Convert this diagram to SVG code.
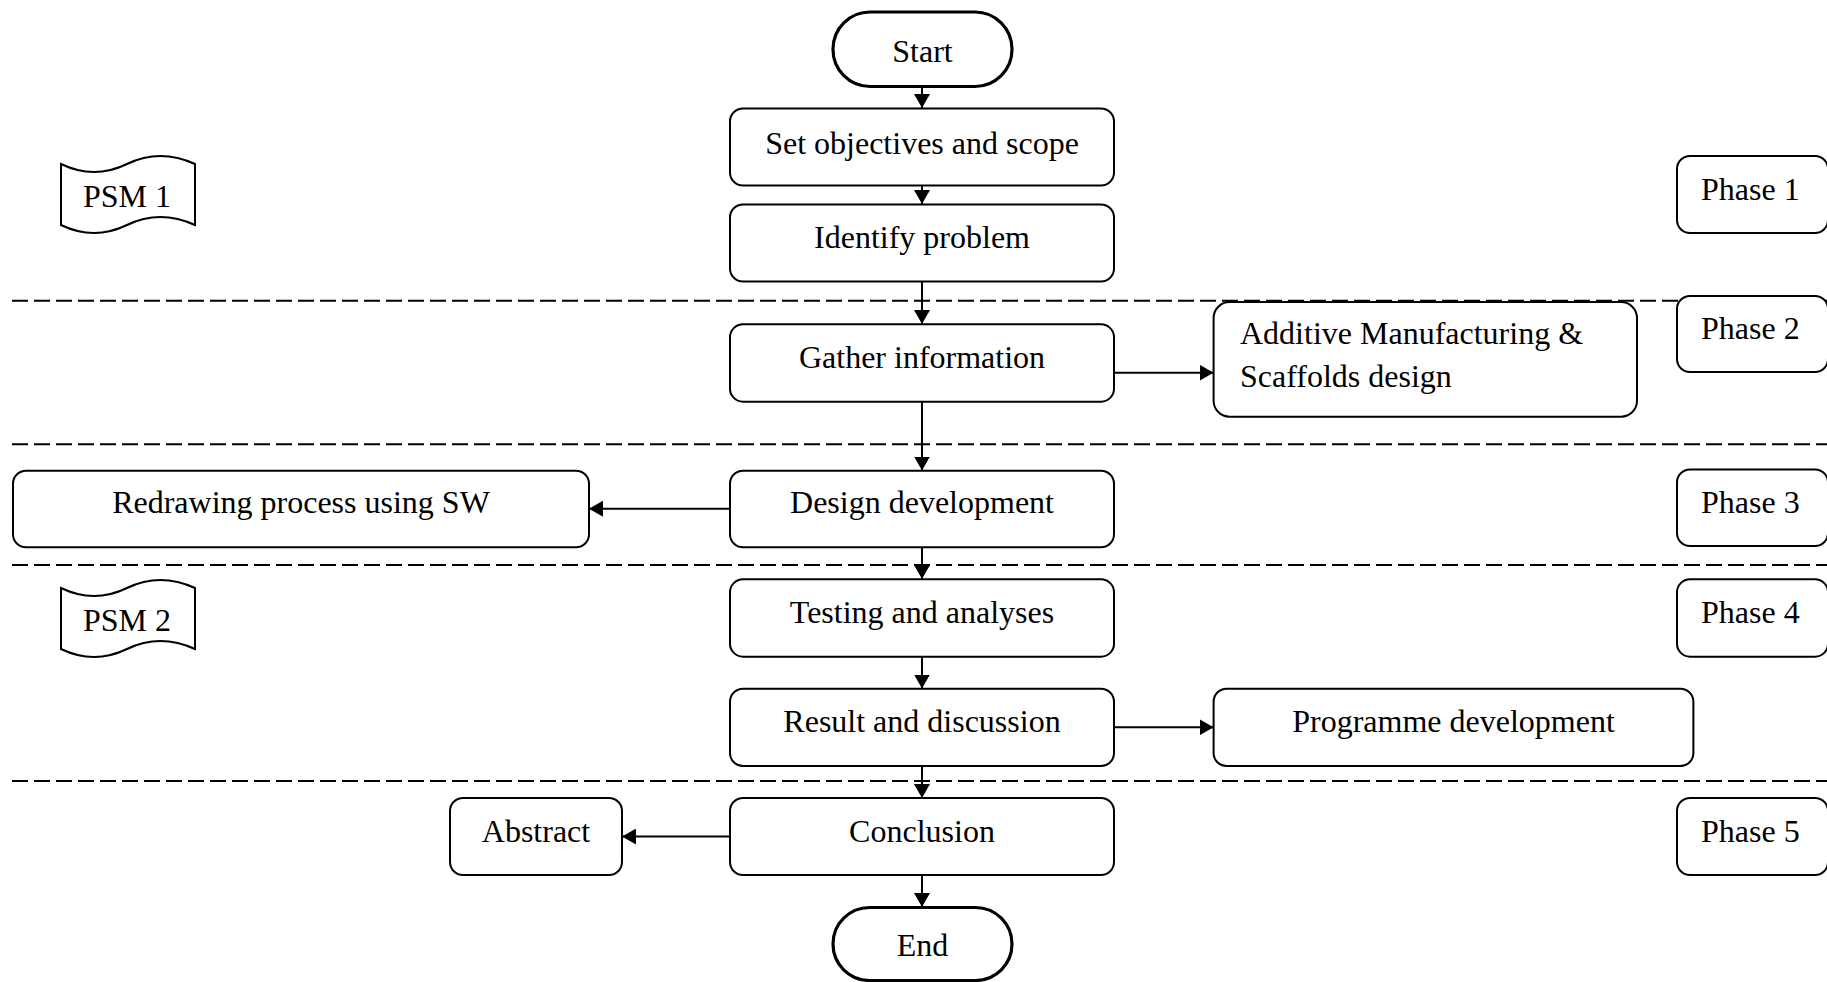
<svg xmlns="http://www.w3.org/2000/svg" width="1827" height="982" viewBox="0 0 1827 982">
<style>
.box{fill:#fff;stroke:#000;stroke-width:2}
.term{fill:#fff;stroke:#000;stroke-width:3.2}
.t{font-family:"Liberation Serif","Times New Roman",serif;font-size:32px;fill:#000}
.c{text-anchor:middle}
.dash{stroke:#000;stroke-width:2;stroke-dasharray:16 6;fill:none}
.ln{stroke:#000;stroke-width:2;fill:none;marker-end:url(#ah)}
</style>
<defs>
<marker id="ah" markerUnits="userSpaceOnUse" viewBox="0 0 14 16" refX="14" refY="8" markerWidth="14" markerHeight="16" orient="auto">
<path d="M0,0 L14,8 L0,16 Z" fill="#000"/>
</marker>
</defs>
<rect width="1827" height="982" fill="#fff"/>
<g id="dividers">
<line class="dash" x1="12" y1="300.7" x2="1827" y2="300.7"/>
<line class="dash" x1="12" y1="444.3" x2="1827" y2="444.3"/>
<line class="dash" x1="12" y1="565" x2="1827" y2="565"/>
<line class="dash" x1="12" y1="781" x2="1827" y2="781"/>
</g>
<g id="connectors">
<line class="ln" x1="922" y1="87" x2="922" y2="108"/>
<line class="ln" x1="922" y1="186" x2="922" y2="204"/>
<line class="ln" x1="922" y1="282" x2="922" y2="324"/>
<line class="ln" x1="922" y1="402" x2="922" y2="470.5"/>
<line class="ln" x1="922" y1="547.5" x2="922" y2="579"/>
<line class="ln" x1="922" y1="657" x2="922" y2="688.5"/>
<line class="ln" x1="922" y1="766" x2="922" y2="798"/>
<line class="ln" x1="922" y1="875" x2="922" y2="907"/>
<line class="ln" x1="1114" y1="372.7" x2="1213.6" y2="372.7"/>
<line class="ln" x1="1114" y1="727.3" x2="1213.6" y2="727.3"/>
<line class="ln" x1="730" y1="508.7" x2="589" y2="508.7"/>
<line class="ln" x1="730" y1="836.6" x2="622" y2="836.6"/>
</g>
<g id="start">
<rect class="term" x="833" y="12" width="179" height="74.5" rx="37" ry="37"/>
<text class="t c" x="922.5" y="61.5">Start</text>
</g>
<g id="set-objectives">
<rect class="box" x="730" y="108.5" width="384" height="77" rx="13"/>
<text class="t c" x="922" y="153.5">Set objectives and scope</text>
</g>
<g id="identify-problem">
<rect class="box" x="730" y="204.5" width="384" height="77" rx="13"/>
<text class="t c" x="922" y="248">Identify problem</text>
</g>
<g id="gather-information">
<rect class="box" x="730" y="324.3" width="384" height="77.4" rx="13"/>
<text class="t c" x="922" y="368">Gather information</text>
</g>
<g id="am-scaffolds">
<rect class="box" x="1213.6" y="302" width="423.4" height="114.7" rx="16"/>
<text class="t" x="1240" y="344">Additive Manufacturing &amp;</text>
<text class="t" x="1240" y="387">Scaffolds design</text>
</g>
<g id="design-development">
<rect class="box" x="730" y="470.7" width="384" height="76.6" rx="13"/>
<text class="t c" x="922" y="513">Design development</text>
</g>
<g id="redrawing">
<rect class="box" x="13" y="470.7" width="576" height="76.6" rx="13"/>
<text class="t c" x="301" y="513">Redrawing process using SW</text>
</g>
<g id="testing">
<rect class="box" x="730" y="579.3" width="384" height="77.4" rx="13"/>
<text class="t c" x="922" y="623">Testing and analyses</text>
</g>
<g id="result">
<rect class="box" x="730" y="688.7" width="384" height="77.3" rx="13"/>
<text class="t c" x="922" y="731.7">Result and discussion</text>
</g>
<g id="programme">
<rect class="box" x="1213.6" y="688.7" width="479.8" height="77.3" rx="13"/>
<text class="t c" x="1453.5" y="731.7">Programme development</text>
</g>
<g id="conclusion">
<rect class="box" x="730" y="798" width="384" height="77" rx="13"/>
<text class="t c" x="922" y="842">Conclusion</text>
</g>
<g id="abstract">
<rect class="box" x="450" y="798" width="172" height="77" rx="13"/>
<text class="t c" x="536" y="842">Abstract</text>
</g>
<g id="end">
<rect class="term" x="833" y="907.5" width="179" height="73" rx="36.5" ry="36.5"/>
<text class="t c" x="922.5" y="956">End</text>
</g>
<g id="psm1">
<path class="box" d="M61,164 Q94,180 127,164 Q160,148 195,164 L195,225 Q160,209 127,225 Q94,241 61,225 Z"/>
<text class="t c" x="127" y="206.5">PSM 1</text>
</g>
<g id="psm2">
<path class="box" d="M61,588 Q94,604 127,588 Q160,572 195,588 L195,649 Q160,633 127,649 Q94,665 61,649 Z"/>
<text class="t c" x="127" y="630.5">PSM 2</text>
</g>
<g id="phase1">
<rect class="box" x="1677" y="156" width="151" height="77" rx="13"/>
<text class="t" x="1701" y="200">Phase 1</text>
</g>
<g id="phase2">
<rect class="box" x="1677" y="296" width="151" height="76" rx="13"/>
<text class="t" x="1701" y="339">Phase 2</text>
</g>
<g id="phase3">
<rect class="box" x="1677" y="469.5" width="151" height="76.5" rx="13"/>
<text class="t" x="1701" y="513">Phase 3</text>
</g>
<g id="phase4">
<rect class="box" x="1677" y="579.3" width="151" height="77.4" rx="13"/>
<text class="t" x="1701" y="623">Phase 4</text>
</g>
<g id="phase5">
<rect class="box" x="1677" y="798" width="151" height="77" rx="13"/>
<text class="t" x="1701" y="842">Phase 5</text>
</g>
</svg>
